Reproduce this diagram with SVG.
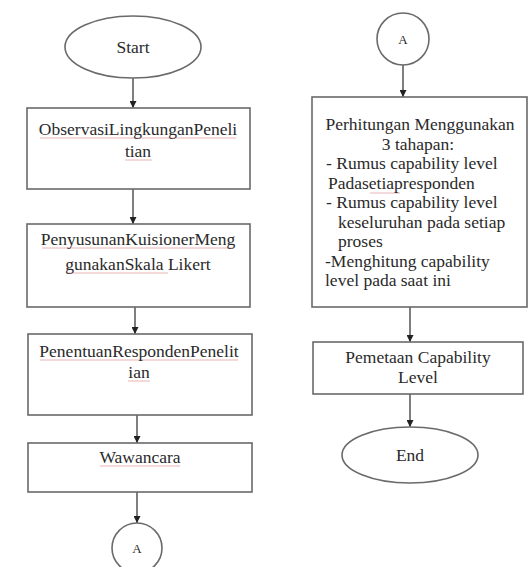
<svg xmlns="http://www.w3.org/2000/svg" width="531" height="567" viewBox="0 0 531 567">
<style>
.shape{fill:#fff;stroke:#6a6a6a;stroke-width:1.6}
.t{font-size:17.5px;fill:#2a2a2a}
.c{text-anchor:middle}
.sm{font-size:13px}
.conn{stroke:#3a3a3a;stroke-width:1.3;fill:none;marker-end:url(#ah)}
.sp{stroke:#e9b4b4;stroke-width:1;fill:none}
</style>
<defs>
<marker id="ah" viewBox="0 0 10 10" refX="10" refY="5" markerWidth="7" markerHeight="7" markerUnits="userSpaceOnUse" orient="auto">
<path d="M0,0 L10,5 L0,10 z" fill="#222"/>
</marker>
</defs>
<rect width="531" height="567" fill="#fff"/>
<g id="connectors">
<line class="conn" x1="133" y1="78" x2="133" y2="108"/>
<line class="conn" x1="133" y1="189" x2="133" y2="224"/>
<line class="conn" x1="135" y1="307" x2="135" y2="334"/>
<line class="conn" x1="137" y1="415" x2="137" y2="443"/>
<line class="conn" x1="137" y1="492" x2="137" y2="523"/>
<line class="conn" x1="403" y1="65" x2="403" y2="97"/>
<line class="conn" x1="410" y1="307" x2="410" y2="342"/>
<line class="conn" x1="410" y1="394" x2="410" y2="427"/>
</g>
<g font-family="'Liberation Serif', 'DejaVu Serif', 'Times New Roman', serif">
<g id="start">
<ellipse class="shape" cx="133" cy="47" rx="68" ry="31"/>
<text class="t c" x="133" y="53">Start</text>
</g>
<g id="observasi">
<rect class="shape" x="27" y="108" width="223" height="81"/>
<line class="sp" x1="40" y1="138" x2="236" y2="138"/>
<line class="sp" x1="125" y1="160" x2="152" y2="160"/>
<text class="t c" x="138" y="135">ObservasiLingkunganPeneli</text>
<text class="t c" x="138" y="157">tian</text>
</g>
<g id="penyusunan">
<rect class="shape" x="27" y="224" width="223" height="83"/>
<line class="sp" x1="42" y1="248" x2="234" y2="248"/>
<line class="sp" x1="66" y1="273" x2="168" y2="273"/>
<text class="t c" x="138" y="245">PenyusunanKuisionerMeng</text>
<text class="t c" x="138" y="270">gunakanSkala Likert</text>
</g>
<g id="penentuan">
<rect class="shape" x="28" y="334" width="224" height="81"/>
<line class="sp" x1="40" y1="360" x2="238" y2="360"/>
<line class="sp" x1="128" y1="381" x2="150" y2="381"/>
<text class="t c" x="139" y="357">PenentuanRespondenPenelit</text>
<text class="t c" x="139" y="378">ian</text>
</g>
<g id="wawancara">
<rect class="shape" x="28" y="443" width="224" height="49"/>
<line class="sp" x1="100" y1="466" x2="180" y2="466"/>
<text class="t c" x="140" y="463">Wawancara</text>
</g>
<g id="connector-a1">
<circle class="shape" cx="137" cy="548" r="25"/>
<text class="t c sm" x="137" y="553">A</text>
</g>
<g id="connector-a2">
<circle class="shape" cx="403" cy="39" r="26"/>
<text class="t c sm" x="403" y="44">A</text>
</g>
<g id="perhitungan">
<rect class="shape" x="312" y="97" width="215" height="210"/>
<line class="sp" x1="370" y1="193" x2="400" y2="193"/>
<text class="t c" x="420" y="130">Perhitungan Menggunakan</text>
<text class="t c" x="418" y="149.5">3 tahapan:</text>
<text class="t" x="326" y="169">- Rumus capability level</text>
<text class="t" x="328" y="188.5">Padasetiapresponden</text>
<text class="t" x="326" y="208">- Rumus capability level</text>
<text class="t" x="338" y="227.5">keseluruhan pada setiap</text>
<text class="t" x="338" y="247">proses</text>
<text class="t" x="325" y="266.5">-Menghitung capability</text>
<text class="t" x="325" y="286">level pada saat ini</text>
</g>
<g id="pemetaan">
<rect class="shape" x="313" y="342" width="210" height="52"/>
<text class="t c" x="418" y="363">Pemetaan Capability</text>
<text class="t c" x="418" y="383">Level</text>
</g>
<g id="end">
<ellipse class="shape" cx="410" cy="455" rx="68" ry="28"/>
<text class="t c" x="410" y="461">End</text>
</g>
</g>
</svg>
